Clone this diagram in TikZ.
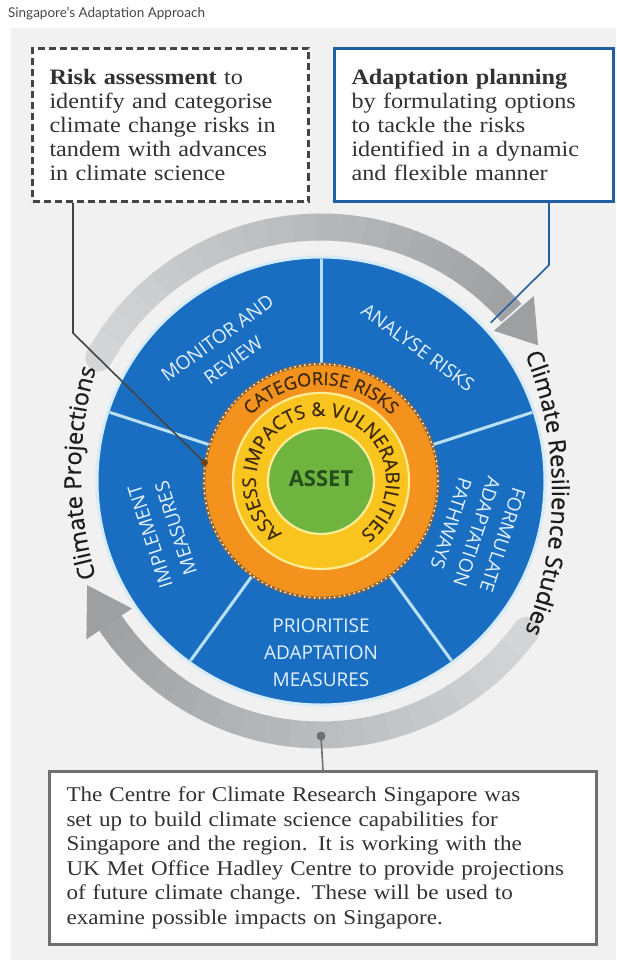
\documentclass[tikz,border=0pt]{standalone}
\usepackage{fontspec}
\setmainfont{Liberation Serif}[FakeStretch=1.1]
\setsansfont{Open Sans}
\newfontfamily\titlefont{Lato}
\newfontfamily\labelfont{Open Sans}[FakeBold=0.7]
\usepackage{tikz}
\usetikzlibrary{positioning,decorations.text}

\definecolor{panelgray}{RGB}{241,241,241}
\definecolor{titletext}{RGB}{70,70,70}
\definecolor{boxtext}{RGB}{50,50,50}
\definecolor{riskgray}{RGB}{68,68,68}
\definecolor{planblue}{RGB}{32,96,160}
\definecolor{notegray}{RGB}{112,112,112}
\definecolor{wheelblue}{RGB}{26,110,194}
\definecolor{discedge}{RGB}{214,235,248}
\definecolor{divblue}{RGB}{185,224,246}
\definecolor{sectortext}{RGB}{226,241,251}
\definecolor{ringorange}{RGB}{244,146,30}
\definecolor{orangeedge}{RGB}{150,100,45}
\definecolor{ringyellow}{RGB}{250,196,30}
\definecolor{yellowedge}{RGB}{253,236,150}
\definecolor{assetgreen}{RGB}{110,180,62}
\definecolor{assettext}{RGB}{36,78,28}
\definecolor{ringtext}{RGB}{62,42,16}
\definecolor{arclight}{RGB}{212,213,214}
\definecolor{arcdark}{RGB}{158,159,161}
\definecolor{sidetext}{RGB}{28,28,28}

\newcommand{\boxfont}{\fontsize{22}{24.2}\selectfont}
\newcommand{\notefont}{\fontsize{21}{24.5}\selectfont}
\newcommand{\sectorfont}{\sffamily\fontsize{19}{27}\selectfont}
\newcommand{\ringfont}{\labelfont\fontsize{18}{20}\selectfont}
\newcommand{\innerfont}{\labelfont\fontsize{19}{20}\selectfont}
\newcommand{\sidefont}{\labelfont\fontsize{23.5}{26}\selectfont}

\begin{document}
\begin{tikzpicture}[
    x=1pt, y=1pt,
    infobox/.style={rectangle, fill=white, line width=3pt, align=left, inner xsep=17pt, text=boxtext},
    line/.style={draw, line width=1.6pt},
    arcband/.style={line width=27pt},
    arrowhead/.style={fill=arcdark},
    divider/.style={draw=divblue, line width=3pt},
    sector/.style={font=\sectorfont, text=sectortext, align=center},
    ringlabel/.style={decorate, decoration={text along path, text align=center, text color=ringtext}},
    sidelabel/.style={decorate, decoration={text along path, text align=center, text color=sidetext}}
]

% page and panel
\useasboundingbox (0,0) rectangle (616,-960);
\fill[white] (0,0) rectangle (616,-960);
\fill[panelgray] (11,-28) rectangle (616,-960);
\node[anchor=west, font=\titlefont\fontsize{13.5}{15}\selectfont, text=titletext, inner sep=0pt] (title) at (8,-14) {Singapore’s Adaptation Approach};

% top boxes
\node[infobox, draw=riskgray, dash pattern=on 7pt off 4pt, minimum width=276, minimum height=153, text width=242, anchor=north west, font=\boxfont] (risk) at (31,-47) {%
    \textbf{Risk assessment} to\\identify and categorise\\climate change risks in\\tandem with advances\\in climate science};
\node[infobox, draw=planblue, minimum width=279, minimum height=153, text width=245, anchor=north west, font=\boxfont] (plan) at (333,-47) {%
    \textbf{Adaptation planning}\\by formulating options\\to tackle the risks\\identified in a dynamic\\and flexible manner};

% the adaptation wheel
\begin{scope}[shift={(321,-481)}]
    % grey cycle arrows, light at the tail and darker at the head
    \fill[arclight] (151:254) circle (13.5);
    \foreach \k in {0,...,19} {
        \pgfmathsetmacro{\from}{151-\k*5.45}
        \pgfmathtruncatemacro{\mix}{100-\k*5}
        \draw[arcband, draw=arclight!\mix!arcdark] (\from:254) arc[start angle=\from, end angle=\from-6, radius=254];
    }
    \fill[arrowhead] (41:229) -- (32:256) -- (41:282) -- cycle;
    \fill[arclight] (-36:254) circle (13.5);
    \foreach \k in {0,...,19} {
        \pgfmathsetmacro{\from}{-36-\k*5.55}
        \pgfmathtruncatemacro{\mix}{100-\k*5}
        \draw[arcband, draw=arclight!\mix!arcdark] (\from:254) arc[start angle=\from, end angle=\from-6, radius=254];
    }
    \fill[arrowhead] (-146:228) -- (-156:256) -- (-146:283) -- cycle;

    % blue sectors
    \fill[wheelblue] (0,0) circle (223);
    \draw[discedge, line width=3pt] (0,0) circle (224);
    \foreach \a in {18,90,162,234,306}
        \draw[divider] (\a:116) -- (\a:222);

    % inner rings
    \fill[ringorange] (0,0) circle (118);
    \draw[orangeedge, line width=2.6pt] (0,0) circle (117);
    \draw[white, line width=2pt, line cap=round, dash pattern=on 0pt off 5pt] (0,0) circle (117);
    \fill[ringyellow] (0,0) circle (89);
    \draw[yellowedge, line width=2.2pt] (0,0) circle (88);
    \fill[assetgreen] (0,0) circle (53);
    \draw[yellowedge, line width=2.2pt] (0,0) circle (53);
    \node[font=\sffamily\bfseries\fontsize{22}{24}\selectfont, text=assettext] (asset) at (0,2) {ASSET};

    % curved ring labels
    \path[ringlabel, decoration={text={|\ringfont|CATEGORISE RISKS}}]
        (160:96) arc[start angle=160, end angle=20, radius=96];
    \path[ringlabel, decoration={text={|\innerfont|ASSESS IMPACTS {\&} VULNERABILITIES}}]
        (250:65) arc[start angle=250, end angle=-70, radius=65];

    % sector labels
    \node[sector, rotate=36] (monitor) at (126:163) {MONITOR AND\\REVIEW};
    \node[sector, rotate=-36] (analyse) at (54:165) {ANALYSE RISKS};
    \node[sector, rotate=-108] (formulate) at (-18:164) {FORMULATE\\ADAPTATION\\PATHWAYS};
    \node[sector] (prioritise) at (270:172) {PRIORITISE\\ADAPTATION\\MEASURES};
    \node[sector, rotate=108] (implement) at (198:166) {IMPLEMENT\\MEASURES};

    % side captions, on flatter arcs than the wheel
    \begin{scope}[shift={(130,8)}]
        \path[sidelabel, decoration={text={|\sidefont|Climate Projections}}]
            (208:370) arc[start angle=208, end angle=152, radius=370];
    \end{scope}
    \begin{scope}[shift={(-139,-12)}]
        \path[sidelabel, decoration={text={|\sidefont|Climate Resilience Studies}}]
            (28:370) arc[start angle=28, end angle=-28, radius=370];
    \end{scope}

    % connector ends
    \coordinate (riskend) at (171:118);
    \coordinate (planend) at (43:232);
    \coordinate (cycledot) at (270:255);
\end{scope}

% note box
\node[infobox, draw=notegray, minimum width=547, minimum height=173, text width=513, anchor=north west, inner xsep=17pt, font=\notefont] (note) at (48,-770) {%
    The Centre for Climate Research Singapore was\\set up to build climate science capabilities for\\Singapore and the region. It is working with the\\UK Met Office Hadley Centre to provide projections\\of future climate change. These will be used to\\examine possible impacts on Singapore.};

% connectors
\coordinate (riskbend) at (73,-333);
\coordinate (planbend) at (549,-265);
\draw[line, draw=riskgray] (risk.south -| riskbend) -- (riskbend) -- (riskend);
\fill[orangeedge!70!black] (riskend) circle (3.5);
\draw[line, draw=planblue] (plan.south -| planbend) -- (planbend) -- (planend);
\draw[line, draw=notegray] (cycledot) -- (note.north);
\fill[notegray] (cycledot) circle (4.5);

\end{tikzpicture}
\end{document}
